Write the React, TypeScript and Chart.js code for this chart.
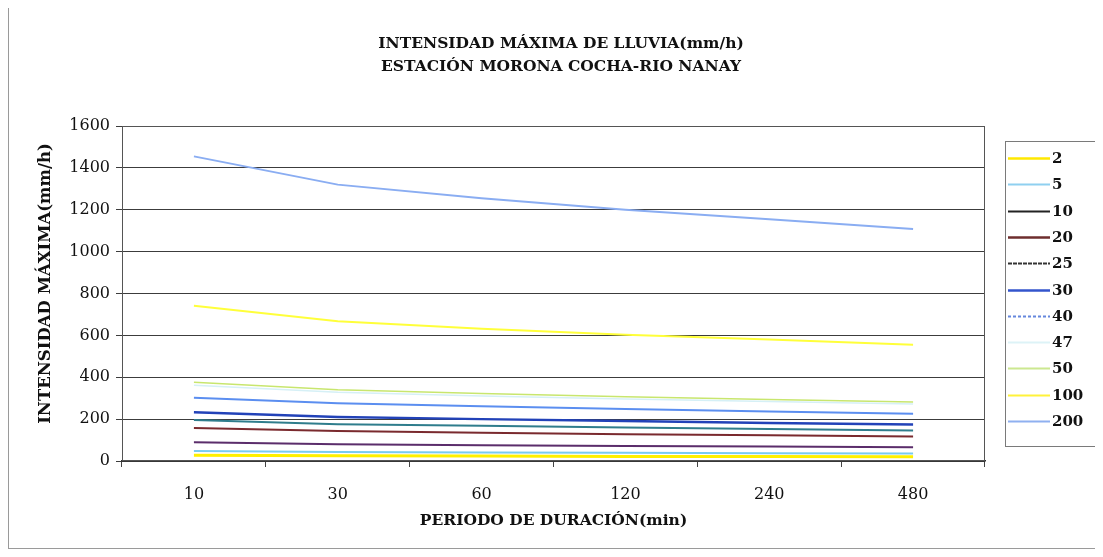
import { useEffect, useRef } from "react";
import { Chart, registerables } from "chart.js";

Chart.register(...registerables);

// Duration categories (min)
const durations = ["10", "30", "60", "120", "240", "480"];

// Return periods (years), one line each
const returnPeriods = ["2", "5", "10", "20", "25", "30", "40", "47", "50", "100", "200"];

// Maximum rainfall intensity (mm/h) per return period, by duration
const t2 = [28, 25, 24, 22, 21, 20];
const t5 = [48, 43, 41, 39, 37, 36];
const t10 = [89, 80, 75, 72, 69, 66];
const t20 = [158, 143, 135, 128, 123, 117];
const t25 = [196, 176, 168, 160, 153, 146];
const t30 = [233, 210, 200, 191, 182, 174];
const t40 = [302, 276, 261, 248, 237, 226];
const t47 = [362, 328, 310, 296, 284, 272];
const t50 = [376, 340, 322, 307, 294, 282];
const t100 = [742, 668, 632, 603, 580, 555];
const t200 = [1455, 1320, 1255, 1200, 1155, 1108];

const seriesValues = [t2, t5, t10, t20, t25, t30, t40, t47, t50, t100, t200];

// Y axis ticks
const yMin = 0;
const yMax = 1600;
const yStep = 200;

const chartTitle = ["INTENSIDAD MÁXIMA DE LLUVIA(mm/h)", "ESTACIÓN MORONA COCHA-RIO NANAY"];
const xTitle = "PERIODO DE DURACIÓN(min)";
const yTitle = "INTENSIDAD MÁXIMA(mm/h)";

const lineColors = [
  "#FFF000", "#78CBF2", "#5B2D6B", "#7A2A2E", "#2F7D8C", "#2242B8",
  "#5B8EF0", "#D6F0F6", "#C8E66E", "#FFFF3A", "#8AADF2",
];
const lineWidths = [3, 2, 2, 2, 2, 2.5, 2, 1.5, 1.5, 2, 2];
const legendColors = [
  "#FFE800", "#8FD0F0", "#222222", "#6E2E2E", "#333333", "#3355CC",
  "#6688DD", "#DDF3F7", "#CCE890", "#FFF23A", "#8FB0F0",
];
const legendDashes: number[][] = [[], [], [], [], [4, 1], [], [3, 2], [], [], [], []];

const SERIF = "'DejaVu Serif', 'Liberation Serif', serif";

// Legend box at the right of the plot
const boxLegend = {
  id: "boxLegend",
  afterDraw(chart: any) {
    const { ctx, chartArea } = chart;
    const w = 92;
    const h = 305;
    const left = chartArea.right + 20;
    const top = Math.round((chartArea.top + chartArea.bottom) / 2 - h / 2);
    ctx.save();
    ctx.strokeStyle = "#7a7a7a";
    ctx.lineWidth = 1;
    ctx.strokeRect(left + 0.5, top + 0.5, w, h);
    const step = 26.3;
    chart.data.datasets.forEach((ds: any, i: number) => {
      const y = Math.round(top + 17 + i * step) + 0.5;
      ctx.beginPath();
      ctx.setLineDash(legendDashes[i]);
      ctx.strokeStyle = legendColors[i];
      ctx.lineWidth = i === 0 || i === 3 || i === 5 ? 2.5 : 1.8;
      ctx.moveTo(left + 3, y);
      ctx.lineTo(left + 45, y);
      ctx.stroke();
      ctx.setLineDash([]);
      ctx.fillStyle = "#111";
      ctx.font = `bold 15px ${SERIF}`;
      ctx.textAlign = "left";
      ctx.textBaseline = "middle";
      ctx.fillText(ds.label, left + 47, y + 1);
    });
    ctx.restore();
  },
};

// Plot-area frame, two-line heading centred on the whole chart, rotated value-axis title
const frameAndTitles = {
  id: "frameAndTitles",
  afterDatasetsDraw(chart: any) {
    const { ctx, chartArea, width } = chart;
    ctx.save();
    ctx.strokeStyle = "#555";
    ctx.lineWidth = 1;
    ctx.strokeRect(
      Math.round(chartArea.left) + 0.5,
      Math.round(chartArea.top) + 0.5,
      Math.round(chartArea.right - chartArea.left) - 1,
      Math.round(chartArea.bottom - chartArea.top) - 1
    );

    ctx.fillStyle = "#111";
    ctx.textAlign = "center";
    ctx.textBaseline = "middle";
    ctx.font = `bold 15.5px ${SERIF}`;
    chartTitle.forEach((line, i) => {
      ctx.fillText(line, width / 2 + 6, 38 + i * 23);
    });

    ctx.translate(37, (chartArea.top + chartArea.bottom) / 2 - 10);
    ctx.rotate(-Math.PI / 2);
    ctx.font = `bold 16.5px ${SERIF}`;
    ctx.fillText(yTitle, 0, 0);
    ctx.restore();
  },
};

export default function App() {
  const canvasRef = useRef<HTMLCanvasElement | null>(null);

  useEffect(() => {
    if (!canvasRef.current) return;
    const chart = new Chart(canvasRef.current, {
      type: "line",
      data: {
        labels: durations,
        datasets: returnPeriods.map((rp, i) => ({
          label: rp,
          data: seriesValues[i],
          borderColor: lineColors[i],
          backgroundColor: lineColors[i],
          borderWidth: lineWidths[i],
          pointRadius: 0,
          tension: 0,
          fill: false,
        })),
      },
      options: {
        animation: false,
        responsive: false,
        devicePixelRatio: 1,
        layout: { padding: { left: 0, right: 116, top: 120, bottom: 0 } },
        plugins: {
          legend: { display: false },
          tooltip: { enabled: false },
          title: { display: false },
        },
        scales: {
          x: {
            type: "category",
            offset: true,
            grid: {
              offset: true,
              drawOnChartArea: false,
              drawTicks: true,
              tickLength: 6,
              color: "#444",
            },
            border: { display: true, color: "#333", width: 1.5 },
            ticks: {
              color: "#111",
              padding: 18,
              font: { family: SERIF, size: 16 },
              maxRotation: 0,
            },
            title: {
              display: true,
              text: xTitle,
              color: "#111",
              font: { family: SERIF, size: 15.5, weight: "bold" },
              padding: { top: 0, bottom: 18 },
            },
            afterFit(scale: any) {
              scale.height = 87;
            },
          },
          y: {
            min: yMin,
            max: yMax,
            grid: {
              color: "#3c3c3c",
              lineWidth: 1,
              drawTicks: true,
              tickLength: 6,
            },
            border: { display: true, color: "#333", width: 1 },
            ticks: {
              stepSize: yStep,
              color: "#111",
              padding: 6,
              font: { family: SERIF, size: 16 },
              callback: (v: any) => String(v),
            },
            afterFit(scale: any) {
              scale.width = 113;
            },
          },
        },
      },
      plugins: [frameAndTitles, boxLegend],
    });
    return () => chart.destroy();
  }, []);

  return (
    <div
      style={{
        width: 1094,
        height: 544,
        marginTop: -3,
        border: "1px solid #9a9a9a",
        boxSizing: "border-box",
        background: "#fff",
      }}
    >
      <canvas ref={canvasRef} width={1092} height={542} style={{ display: "block" }} />
    </div>
  );
}
